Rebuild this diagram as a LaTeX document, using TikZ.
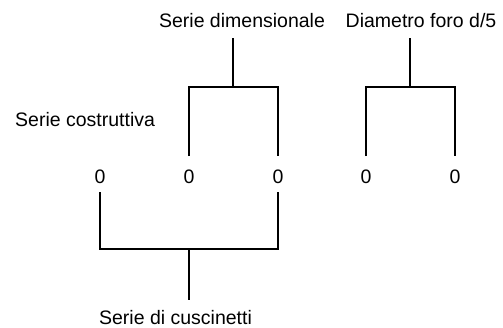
\documentclass[tikz,border=0pt]{standalone}
\usepackage{fontspec}
\setmainfont{Liberation Sans}
\usepackage{tikz}
\newcommand{\px}{1pt}

\begin{document}
\begin{tikzpicture}[x=\px, y=-\px,
    lbl/.style={inner sep=0pt, font=\fontsize{19.5}{23}\selectfont},
    tree/.style={line width=1.8pt}]
    \useasboundingbox (0,0) rectangle (503,327);

    % Labels
    \node[lbl, anchor=base] (dim) at (242,27) {Serie dimensionale};
    \node[lbl, anchor=base] (foro) at (421,27) {Diametro foro d/5};
    \node[lbl, anchor=base west] (costr) at (15,126) {Serie costruttiva};
    \node[lbl, anchor=base] (cusc) at (175.5,324) {Serie di cuscinetti};

    % Digits
    \node[lbl, anchor=base] (d-1) at (100,183) {0};
    \node[lbl, anchor=base] (d-2) at (189,183) {0};
    \node[lbl, anchor=base] (d-3) at (278,183) {0};
    \node[lbl, anchor=base] (d-4) at (366,183) {0};
    \node[lbl, anchor=base] (d-5) at (455,183) {0};

    % Junctions
    \coordinate (j-1) at (233,87);
    \coordinate (j-2) at (410,87);
    \coordinate (j-3) at (189,249);

    % Top trees
    \draw[tree, shorten <=11pt] (j-1 |- dim.south) -- (j-1);
    \draw[tree, shorten <=13pt, shorten >=13pt] (d-2.north) |- (j-1) -| (d-3.north);
    \draw[tree, shorten <=11pt] (j-2 |- foro.south) -- (j-2);
    \draw[tree, shorten <=13pt, shorten >=13pt] (d-4.north) |- (j-2) -| (d-5.north);

    % Bottom tree
    \draw[tree, shorten <=9pt, shorten >=9pt] (d-1.south) |- (j-3) -| (d-3.south);
    \draw[tree, shorten >=10pt] (j-3) -- (j-3 |- cusc.north);

\end{tikzpicture}
\end{document}
